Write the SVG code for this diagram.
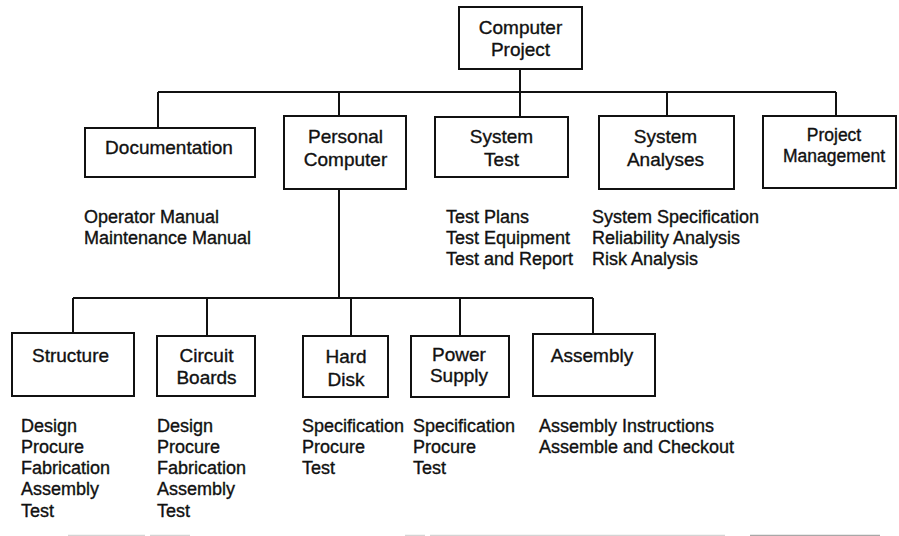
<svg xmlns="http://www.w3.org/2000/svg" width="899" height="536" viewBox="0 0 899 536">
  <style>
    .box { fill: #ffffff; stroke: #111111; stroke-width: 2; }
    .wire { fill: none; stroke: #111111; stroke-width: 2; }
    .label { font-family: "Liberation Sans", Arial, sans-serif; font-size: 19px; fill: #111111; stroke: #111111; stroke-width: 0.35; text-anchor: middle; }
    .small { font-size: 17.5px; }
    .list { font-family: "Liberation Sans", Arial, sans-serif; font-size: 18px; fill: #111111; stroke: #111111; stroke-width: 0.35; }
    .rule { stroke-width: 1.5; fill: none; }
  </style>
  <rect width="899" height="536" fill="#ffffff"/>

  <!-- tree connectors -->
  <g id="connectors">
    <path class="wire" d="M520 69 V92"/>
    <path class="wire" d="M158 92 H836"/>
    <path class="wire" d="M158 92 V128"/>
    <path class="wire" d="M339 92 V116"/>
    <path class="wire" d="M520 92 V117"/>
    <path class="wire" d="M667 92 V116"/>
    <path class="wire" d="M836 92 V116"/>
    <path class="wire" d="M339 189 V298"/>
    <path class="wire" d="M73 298 H593"/>
    <path class="wire" d="M73 298 V333"/>
    <path class="wire" d="M207 298 V336"/>
    <path class="wire" d="M351 298 V336"/>
    <path class="wire" d="M460 298 V336"/>
    <path class="wire" d="M593 298 V334"/>
  </g>

  <!-- root -->
  <g id="computer-project">
    <rect class="box" x="459" y="7" width="123" height="62"/>
    <text class="label" x="520.5" y="34">Computer</text>
    <text class="label" x="520.5" y="56">Project</text>
  </g>

  <!-- second level -->
  <g id="documentation">
    <rect class="box" x="85" y="128" width="170" height="49"/>
    <text class="label" x="169" y="154">Documentation</text>
    <text class="list" x="84" y="223">Operator Manual</text>
    <text class="list" x="84" y="244">Maintenance Manual</text>
  </g>

  <g id="personal-computer">
    <rect class="box" x="284" y="116" width="122" height="73"/>
    <text class="label" x="345.5" y="143">Personal</text>
    <text class="label" x="345.5" y="166">Computer</text>
  </g>

  <g id="system-test">
    <rect class="box" x="435" y="117" width="133" height="60"/>
    <text class="label" x="501.5" y="143">System</text>
    <text class="label" x="501.5" y="166">Test</text>
    <text class="list" x="446" y="223">Test Plans</text>
    <text class="list" x="446" y="244">Test Equipment</text>
    <text class="list" x="446" y="265">Test and Report</text>
  </g>

  <g id="system-analyses">
    <rect class="box" x="599" y="116" width="135" height="73"/>
    <text class="label" x="665.5" y="143">System</text>
    <text class="label" x="665.5" y="166">Analyses</text>
    <text class="list" x="592" y="223">System Specification</text>
    <text class="list" x="592" y="244">Reliability Analysis</text>
    <text class="list" x="592" y="265">Risk Analysis</text>
  </g>

  <g id="project-management">
    <rect class="box" x="763" y="116" width="133" height="72"/>
    <text class="label small" x="834" y="141">Project</text>
    <text class="label small" x="834" y="162">Management</text>
  </g>

  <!-- third level under Personal Computer -->
  <g id="structure">
    <rect class="box" x="12" y="333" width="122" height="63"/>
    <text class="label" x="70.5" y="362">Structure</text>
    <text class="list" x="21" y="432">Design</text>
    <text class="list" x="21" y="453">Procure</text>
    <text class="list" x="21" y="474">Fabrication</text>
    <text class="list" x="21" y="495">Assembly</text>
    <text class="list" x="21" y="517">Test</text>
  </g>

  <g id="circuit-boards">
    <rect class="box" x="157" y="336" width="98" height="60"/>
    <text class="label" x="206.5" y="362">Circuit</text>
    <text class="label" x="206.5" y="384">Boards</text>
    <text class="list" x="157" y="432">Design</text>
    <text class="list" x="157" y="453">Procure</text>
    <text class="list" x="157" y="474">Fabrication</text>
    <text class="list" x="157" y="495">Assembly</text>
    <text class="list" x="157" y="517">Test</text>
  </g>

  <g id="hard-disk">
    <rect class="box" x="303" y="336" width="85" height="61"/>
    <text class="label" x="346" y="363">Hard</text>
    <text class="label" x="346" y="386">Disk</text>
    <text class="list" x="302" y="432">Specification</text>
    <text class="list" x="302" y="453">Procure</text>
    <text class="list" x="302" y="474">Test</text>
  </g>

  <g id="power-supply">
    <rect class="box" x="411" y="336" width="98" height="61"/>
    <text class="label" x="459" y="361">Power</text>
    <text class="label" x="459" y="382">Supply</text>
    <text class="list" x="413" y="432">Specification</text>
    <text class="list" x="413" y="453">Procure</text>
    <text class="list" x="413" y="474">Test</text>
  </g>

  <g id="assembly">
    <rect class="box" x="533" y="334" width="122" height="62"/>
    <text class="label" x="592" y="362">Assembly</text>
    <text class="list" x="539" y="432">Assembly Instructions</text>
    <text class="list" x="539" y="453">Assemble and Checkout</text>
  </g>

  <!-- faint rule fragments along the lower edge -->
  <g id="lower-rule">
    <path class="rule" stroke="#d4d4d4" d="M68 535.5 H145 M150 535.5 H190 M405 535.5 H425 M430 535.5 H725"/>
    <path class="rule" stroke="#a8a8a8" d="M750 535.5 H880"/>
  </g>
</svg>
